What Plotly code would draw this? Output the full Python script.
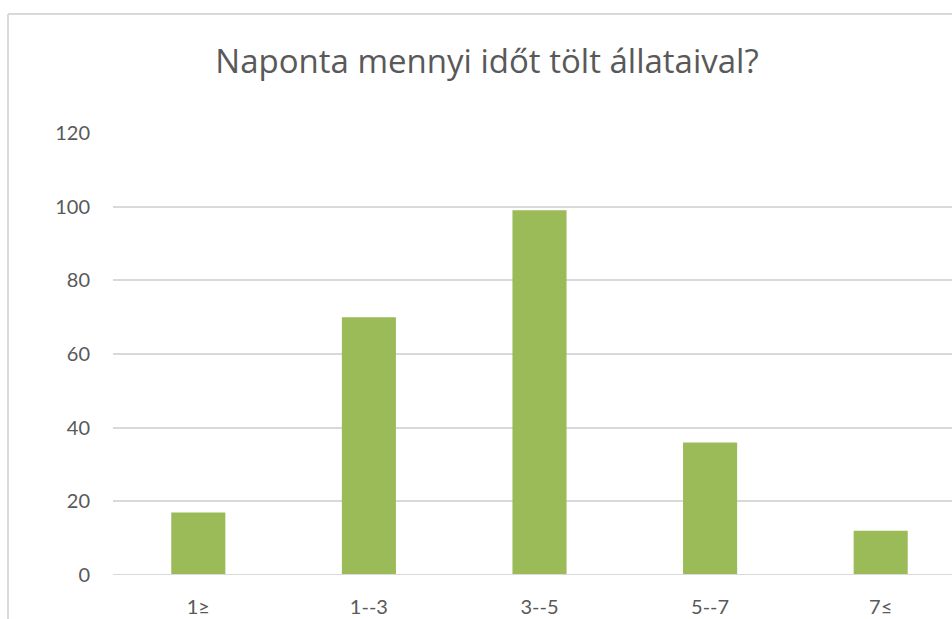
import plotly.graph_objects as go

categories = ["1≥", "1--3", "3--5", "5--7", "7≤"]
values = [17, 70, 99, 36, 12]
y_ticks = [0, 20, 40, 60, 80, 100, 120]
title_text = "Naponta mennyi időt tölt állataival?"

W, H = 952, 619
L, R, T, B = 113, 0, 133, 44
pw = W - L - R
ph = H - T - B

def px(x):
    return (x - L) / pw

def py(y):
    return (H - B - y) / ph

fig = go.Figure(go.Bar(
    x=list(range(len(categories))),
    y=values,
    marker=dict(color="#9bbb59", line=dict(width=0)),
    width=0.317,
))

font = "Lato, 'Open Sans', sans-serif"
tfont = "'Open Sans', Lato, sans-serif"
fig.update_layout(
    width=W, height=H,
    margin=dict(l=L, r=R, t=T, b=B, pad=0, autoexpand=False),
    paper_bgcolor="white", plot_bgcolor="white",
    showlegend=False,
    title=dict(text=title_text, x=px(487), xref="paper", xanchor="center",
               y=1 - 61 / H, yanchor="middle", automargin=False,
               font=dict(family=tfont, size=33, color="#595959")),
    xaxis=dict(
        tickmode="array", tickvals=list(range(len(categories))), ticktext=categories,
        range=[-0.5, 4.418], showgrid=False, zeroline=False, showline=False,
        tickfont=dict(family=font, size=20, color="#595959"),
        ticks="", ticklabelstandoff=18, fixedrange=True, automargin=False,
    ),
    yaxis=dict(
        range=[0, 120], tickmode="array", tickvals=y_ticks,
        showgrid=True, gridcolor="#d9d9d9", gridwidth=2,
        zeroline=False, showline=False,
        tickfont=dict(family=font, size=20, color="#595959"),
        ticks="", ticklabelstandoff=22, automargin=False, fixedrange=True,
    ),
    shapes=[
        dict(type="line", xref="paper", yref="paper", x0=px(8), x1=px(8),
             y0=py(14), y1=py(H + 5), line=dict(color="#d9d9d9", width=2)),
        dict(type="line", xref="paper", yref="paper", x0=px(8), x1=px(W + 5),
             y0=py(14), y1=py(14), line=dict(color="#d9d9d9", width=2)),
        dict(type="line", xref="paper", yref="y", x0=0, x1=1, y0=0, y1=0,
             line=dict(color="#d9d9d9", width=2), layer="above"),
    ],
)

fig.write_html(
    "out.html",
    config={"displayModeBar": False},
    post_script="document.body.style.margin='0';document.body.style.overflow='hidden';",
)
